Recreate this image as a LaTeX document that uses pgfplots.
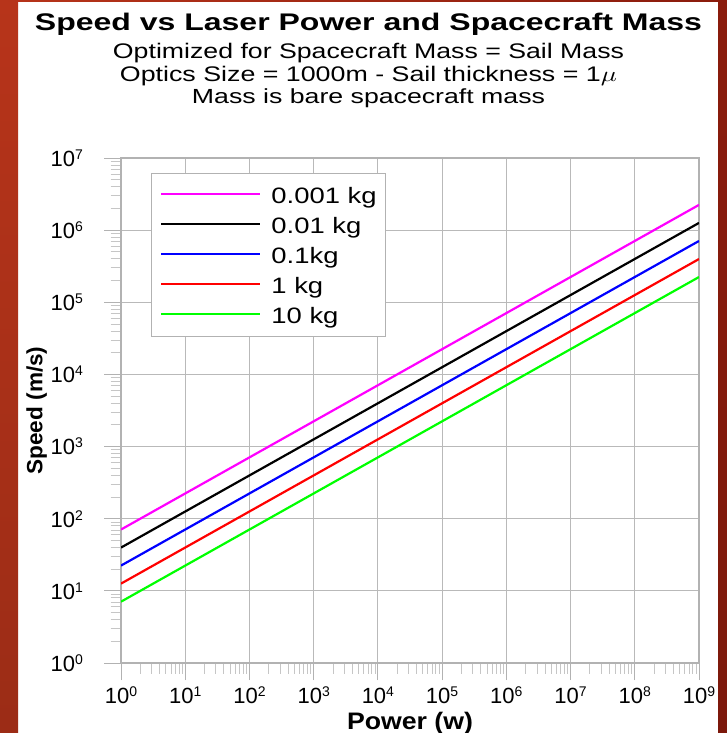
\documentclass[border=0pt]{standalone}
\usepackage{fontspec}
\setmainfont{Liberation Sans}
\newfontfamily\legfont[FakeStretch=1.23]{Liberation Sans}
\usepackage{graphicx}
\usepackage{pgfplots}
\pgfplotsset{compat=1.18}
\definecolor{bgleft}{RGB}{183,52,26}
\definecolor{bgright}{RGB}{138,27,12}
\definecolor{limegreen}{RGB}{0,255,0}
\definecolor{puremagenta}{RGB}{255,0,255}
\newcommand{\tl}[1]{10\raisebox{7pt}{\fontsize{14}{14}\selectfont #1}}
\begin{document}
\begin{tikzpicture}[x=1pt,y=1pt]
\path[use as bounding box] (0,0) rectangle (727,-733);
\fill[white] (0,0) rectangle (727,-733);
\begin{axis}[
  at={(121pt,-663pt)}, anchor=south west,
  scale only axis, width=578pt, height=505pt,
  xmode=log, ymode=log,
  xmin=1, xmax=1e9, ymin=1, ymax=1e7,
  xtick={1,10,100,1000,1e4,1e5,1e6,1e7,1e8,1e9},
  xticklabels={\tl{0},\tl{1},\tl{2},\tl{3},\tl{4},\tl{5},\tl{6},\tl{7},\tl{8},\tl{9}},
  ytick={1,10,100,1000,1e4,1e5,1e6,1e7},
  yticklabels={\tl{0},\tl{1},\tl{2},\tl{3},\tl{4},\tl{5},\tl{6},\tl{7}},
  minor xtick={2,3,4,5,6,7,8,9,20,30,40,50,60,70,80,90,200,300,400,500,600,700,800,900,2000,3000,4000,5000,6000,7000,8000,9000,2e4,3e4,4e4,5e4,6e4,7e4,8e4,9e4,2e5,3e5,4e5,5e5,6e5,7e5,8e5,9e5,2e6,3e6,4e6,5e6,6e6,7e6,8e6,9e6,2e7,3e7,4e7,5e7,6e7,7e7,8e7,9e7,2e8,3e8,4e8,5e8,6e8,7e8,8e8,9e8},
  minor ytick={2,3,4,5,6,7,8,9,20,30,40,50,60,70,80,90,200,300,400,500,600,700,800,900,2000,3000,4000,5000,6000,7000,8000,9000,2e4,3e4,4e4,5e4,6e4,7e4,8e4,9e4,2e5,3e5,4e5,5e5,6e5,7e5,8e5,9e5,2e6,3e6,4e6,5e6,6e6,7e6,8e6,9e6},
  tick align=outside, tick pos=left,
  major tick length=17pt, minor tick length=10.5pt,
  grid=major,
  major grid style={color=gray!55, line width=1pt},
  tick style={color=gray!60, line width=1pt},
  minor tick style={color=gray!45, line width=0.8pt},
  axis line style={gray!60, line width=1.2pt},
  tick label style={font=\fontsize{22}{24}\selectfont, inner sep=0pt},
  yticklabel style={anchor=east, xshift=-21pt},
  xticklabel style={anchor=north, yshift=-6.5pt},
  xlabel={\resizebox{126pt}{17.3pt}{\bfseries Power (w)}},
  xlabel style={at={(axis description cs:0.5,0)}, anchor=base, yshift=-66pt, inner sep=0pt},
  ylabel={\resizebox{128pt}{16pt}{\bfseries Speed (m/s)}},
  ylabel style={at={(axis description cs:-0.13616,0.5)}, anchor=base, inner sep=0pt},
  legend cell align=left,
  legend style={at={(0.0514,0.971)}, anchor=north west, draw=gray!60, line width=1pt, fill=white,
    inner xsep=9pt, inner ysep=7.4pt, row sep=2.55pt,
    font=\legfont\fontsize{22.3}{24}\selectfont,
    nodes={inner sep=0pt, text height=22.6pt, text depth=5pt, anchor=base west}},
  legend image code/.code={\draw[#1] (0pt,9.4pt) -- (99pt,9.4pt); \path (109pt,9.4pt);},
]
\addplot[puremagenta, line width=2.2pt] coordinates {(1,70.8) (1e9,2.24e6)};
\addlegendentry{0.001 kg}
\addplot[black, line width=2.2pt] coordinates {(1,39.8) (1e9,1.26e6)};
\addlegendentry{0.01 kg}
\addplot[blue, line width=2.2pt] coordinates {(1,22.4) (1e9,7.08e5)};
\addlegendentry{0.1kg}
\addplot[red, line width=2.2pt] coordinates {(1,12.6) (1e9,3.98e5)};
\addlegendentry{1 kg}
\addplot[limegreen, line width=2.2pt] coordinates {(1,7.08) (1e9,2.24e5)};
\addlegendentry{10 kg}
\end{axis}
\node[anchor=base, inner sep=0pt] at (368.5,-30.5) {\resizebox{667pt}{17.4pt}{\bfseries Speed vs Laser Power and Spacecraft Mass}};
\node[anchor=base, inner sep=0pt] at (368.5,-58.2) {\resizebox{511pt}{15.3pt}{Optimized for Spacecraft Mass = Sail Mass}};
\node[anchor=base, inner sep=0pt] at (368.5,-81.5) {\resizebox{497pt}{15.3pt}{Optics Size = 1000m - Sail thickness = 1$\mu$}};
\node[anchor=base, inner sep=0pt] at (368.5,-104) {\resizebox{353pt}{14.8pt}{Mass is bare spacecraft mass}};
\shade[top color=bgleft, bottom color=bgleft!85!black] (0,0) rectangle (18,-733);
\shade[top color=bgright, bottom color=bgright!90!black] (718,0) rectangle (727,-733);
\shade[left color=bgleft, right color=bgright] (0,0) rectangle (727,-2);
\end{tikzpicture}
\end{document}
